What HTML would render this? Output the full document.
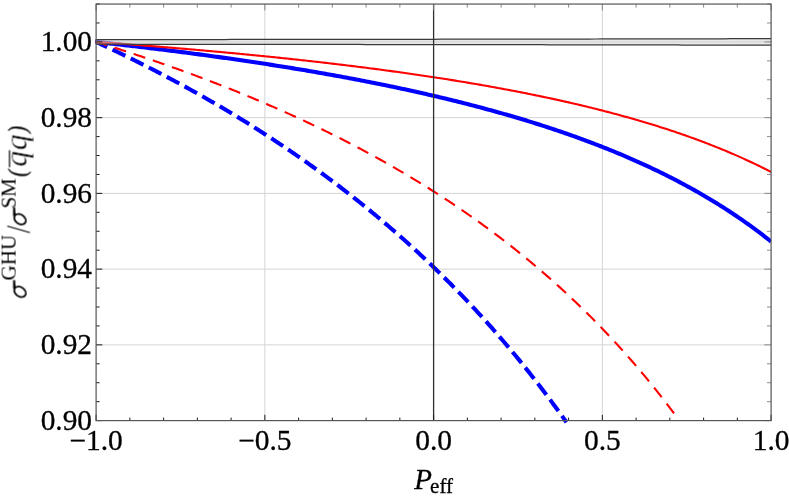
<!DOCTYPE html>
<html><head><meta charset="utf-8"><title>plot</title>
<style>
html,body{margin:0;padding:0;background:#fff;}
body{width:789px;height:497px;overflow:hidden;font-family:"Liberation Serif",serif;}
svg{display:block;}
text{font-family:"Liberation Serif",serif;fill:#000;}
.tx{opacity:0.999;}
.tk{stroke:#000;stroke-width:0.3px;}
</style></head><body>
<svg width="789" height="497" viewBox="0 0 789 497">
<rect x="0" y="0" width="789" height="497" fill="#ffffff"/>

<g stroke="#d4d4d4" stroke-width="1" fill="none">
<line x1="264.85" y1="4.05" x2="264.85" y2="420.60"/>
<line x1="602.35" y1="4.05" x2="602.35" y2="420.60"/>
<line x1="96.10" y1="344.86" x2="771.10" y2="344.86"/>
<line x1="96.10" y1="269.13" x2="771.10" y2="269.13"/>
<line x1="96.10" y1="193.39" x2="771.10" y2="193.39"/>
<line x1="96.10" y1="117.65" x2="771.10" y2="117.65"/>
<line x1="96.10" y1="41.92" x2="771.10" y2="41.92"/>
</g>
<defs><clipPath id="cp"><rect x="95.30" y="4.05" width="675.80" height="420.05"/></clipPath></defs>
<g clip-path="url(#cp)">
<path d="M96.10,41.92 L97.79,42.10 L99.47,42.29 L101.16,42.47 L102.85,42.66 L104.54,42.85 L106.23,43.04 L107.91,43.22 L109.60,43.41 L111.29,43.60 L112.98,43.79 L114.66,43.98 L116.35,44.17 L118.04,44.37 L119.73,44.56 L121.41,44.75 L123.10,44.95 L124.79,45.14 L126.47,45.34 L128.16,45.53 L129.85,45.73 L131.54,45.93 L133.22,46.12 L134.91,46.32 L136.60,46.52 L138.29,46.72 L139.97,46.92 L141.66,47.12 L143.35,47.32 L145.04,47.53 L146.72,47.73 L148.41,47.93 L150.10,48.14 L151.79,48.34 L153.48,48.55 L155.16,48.75 L156.85,48.96 L158.54,49.17 L160.22,49.38 L161.91,49.59 L163.60,49.80 L165.29,50.01 L166.97,50.22 L168.66,50.43 L170.35,50.64 L172.04,50.85 L173.72,51.07 L175.41,51.28 L177.10,51.50 L178.79,51.72 L180.47,51.93 L182.16,52.15 L183.85,52.37 L185.54,52.59 L187.22,52.81 L188.91,53.03 L190.60,53.25 L192.29,53.47 L193.98,53.70 L195.66,53.92 L197.35,54.14 L199.04,54.37 L200.73,54.60 L202.41,54.82 L204.10,55.05 L205.79,55.28 L207.48,55.51 L209.16,55.74 L210.85,55.97 L212.54,56.20 L214.22,56.44 L215.91,56.67 L217.60,56.90 L219.29,57.14 L220.97,57.37 L222.66,57.61 L224.35,57.85 L226.04,58.09 L227.72,58.33 L229.41,58.57 L231.10,58.81 L232.79,59.05 L234.47,59.29 L236.16,59.54 L237.85,59.78 L239.54,60.03 L241.22,60.27 L242.91,60.52 L244.60,60.77 L246.29,61.02 L247.97,61.27 L249.66,61.52 L251.35,61.77 L253.04,62.02 L254.72,62.28 L256.41,62.53 L258.10,62.79 L259.79,63.05 L261.48,63.30 L263.16,63.56 L264.85,63.82 L266.54,64.08 L268.23,64.34 L269.91,64.61 L271.60,64.87 L273.29,65.13 L274.98,65.40 L276.66,65.66 L278.35,65.93 L280.04,66.20 L281.73,66.47 L283.41,66.74 L285.10,67.01 L286.79,67.29 L288.47,67.56 L290.16,67.83 L291.85,68.11 L293.54,68.39 L295.23,68.66 L296.91,68.94 L298.60,69.22 L300.29,69.50 L301.98,69.79 L303.66,70.07 L305.35,70.35 L307.04,70.64 L308.73,70.93 L310.41,71.21 L312.10,71.50 L313.79,71.79 L315.48,72.08 L317.16,72.38 L318.85,72.67 L320.54,72.97 L322.23,73.26 L323.91,73.56 L325.60,73.86 L327.29,74.16 L328.97,74.46 L330.66,74.76 L332.35,75.06 L334.04,75.37 L335.73,75.67 L337.41,75.98 L339.10,76.29 L340.79,76.60 L342.48,76.91 L344.16,77.22 L345.85,77.53 L347.54,77.85 L349.23,78.16 L350.91,78.48 L352.60,78.80 L354.29,79.12 L355.98,79.44 L357.66,79.76 L359.35,80.08 L361.04,80.41 L362.73,80.74 L364.41,81.06 L366.10,81.39 L367.79,81.72 L369.48,82.06 L371.16,82.39 L372.85,82.72 L374.54,83.06 L376.23,83.40 L377.91,83.74 L379.60,84.08 L381.29,84.42 L382.98,84.76 L384.66,85.11 L386.35,85.46 L388.04,85.80 L389.73,86.15 L391.41,86.50 L393.10,86.86 L394.79,87.21 L396.48,87.57 L398.16,87.92 L399.85,88.28 L401.54,88.64 L403.23,89.00 L404.91,89.37 L406.60,89.73 L408.29,90.10 L409.98,90.47 L411.66,90.84 L413.35,91.21 L415.04,91.58 L416.73,91.96 L418.41,92.34 L420.10,92.71 L421.79,93.09 L423.48,93.48 L425.16,93.86 L426.85,94.25 L428.54,94.63 L430.23,95.02 L431.91,95.41 L433.60,95.80 L435.29,96.20 L436.98,96.60 L438.66,96.99 L440.35,97.39 L442.04,97.79 L443.73,98.20 L445.41,98.60 L447.10,99.01 L448.79,99.42 L450.48,99.83 L452.16,100.24 L453.85,100.66 L455.54,101.08 L457.23,101.50 L458.91,101.92 L460.60,102.34 L462.29,102.77 L463.98,103.19 L465.66,103.62 L467.35,104.05 L469.04,104.49 L470.73,104.92 L472.41,105.36 L474.10,105.80 L475.79,106.24 L477.47,106.69 L479.16,107.13 L480.85,107.58 L482.54,108.03 L484.22,108.48 L485.91,108.94 L487.60,109.40 L489.29,109.86 L490.98,110.32 L492.66,110.78 L494.35,111.25 L496.04,111.72 L497.73,112.19 L499.41,112.66 L501.10,113.14 L502.79,113.62 L504.48,114.10 L506.16,114.58 L507.85,115.07 L509.54,115.55 L511.23,116.05 L512.91,116.54 L514.60,117.04 L516.29,117.53 L517.98,118.03 L519.66,118.54 L521.35,119.04 L523.04,119.55 L524.73,120.07 L526.41,120.58 L528.10,121.10 L529.79,121.62 L531.48,122.14 L533.16,122.66 L534.85,123.19 L536.54,123.72 L538.23,124.26 L539.91,124.79 L541.60,125.33 L543.29,125.88 L544.98,126.42 L546.66,126.97 L548.35,127.52 L550.04,128.08 L551.73,128.63 L553.41,129.19 L555.10,129.76 L556.79,130.33 L558.48,130.90 L560.16,131.47 L561.85,132.04 L563.54,132.62 L565.22,133.21 L566.91,133.79 L568.60,134.38 L570.29,134.98 L571.98,135.57 L573.66,136.17 L575.35,136.77 L577.04,137.38 L578.73,137.99 L580.41,138.60 L582.10,139.22 L583.79,139.84 L585.48,140.46 L587.16,141.09 L588.85,141.72 L590.54,142.36 L592.23,143.00 L593.91,143.64 L595.60,144.29 L597.29,144.94 L598.98,145.59 L600.66,146.25 L602.35,146.91 L604.04,147.58 L605.73,148.25 L607.41,148.92 L609.10,149.60 L610.79,150.28 L612.48,150.97 L614.16,151.66 L615.85,152.35 L617.54,153.05 L619.23,153.75 L620.91,154.46 L622.60,155.17 L624.29,155.89 L625.98,156.61 L627.66,157.33 L629.35,158.06 L631.04,158.80 L632.73,159.54 L634.41,160.28 L636.10,161.03 L637.79,161.78 L639.48,162.54 L641.16,163.31 L642.85,164.07 L644.54,164.85 L646.23,165.62 L647.91,166.41 L649.60,167.20 L651.29,167.99 L652.98,168.79 L654.66,169.59 L656.35,170.40 L658.04,171.21 L659.73,172.03 L661.41,172.86 L663.10,173.69 L664.79,174.53 L666.48,175.37 L668.16,176.22 L669.85,177.07 L671.54,177.93 L673.23,178.79 L674.91,179.66 L676.60,180.54 L678.29,181.43 L679.98,182.31 L681.66,183.21 L683.35,184.11 L685.04,185.02 L686.73,185.93 L688.41,186.85 L690.10,187.78 L691.79,188.72 L693.48,189.66 L695.16,190.60 L696.85,191.56 L698.54,192.52 L700.23,193.49 L701.91,194.46 L703.60,195.44 L705.29,196.43 L706.98,197.43 L708.66,198.43 L710.35,199.45 L712.04,200.46 L713.73,201.49 L715.41,202.52 L717.10,203.57 L718.79,204.62 L720.48,205.67 L722.16,206.74 L723.85,207.81 L725.54,208.90 L727.23,209.99 L728.91,211.08 L730.60,212.19 L732.29,213.31 L733.98,214.43 L735.66,215.57 L737.35,216.71 L739.04,217.86 L740.73,219.02 L742.41,220.19 L744.10,221.37 L745.79,222.56 L747.48,223.75 L749.16,224.96 L750.85,226.18 L752.54,227.41 L754.23,228.64 L755.91,229.89 L757.60,231.15 L759.29,232.42 L760.98,233.70 L762.66,234.99 L764.35,236.29 L766.04,237.60 L767.73,238.92 L769.41,240.25 L771.10,241.60" fill="none" stroke="#0000ff" stroke-width="4.1"/>
<path d="M96.10,41.92 L97.79,42.70 L99.47,43.48 L101.16,44.27 L102.85,45.06 L104.54,45.85 L106.23,46.64 L107.91,47.44 L109.60,48.24 L111.29,49.04 L112.98,49.84 L114.66,50.65 L116.35,51.46 L118.04,52.27 L119.73,53.08 L121.41,53.90 L123.10,54.72 L124.79,55.54 L126.47,56.37 L128.16,57.19 L129.85,58.02 L131.54,58.85 L133.22,59.69 L134.91,60.53 L136.60,61.37 L138.29,62.21 L139.97,63.05 L141.66,63.90 L143.35,64.75 L145.04,65.61 L146.72,66.46 L148.41,67.32 L150.10,68.18 L151.79,69.05 L153.48,69.91 L155.16,70.78 L156.85,71.66 L158.54,72.53 L160.22,73.41 L161.91,74.29 L163.60,75.18 L165.29,76.07 L166.97,76.96 L168.66,77.85 L170.35,78.75 L172.04,79.64 L173.72,80.55 L175.41,81.45 L177.10,82.36 L178.79,83.27 L180.47,84.19 L182.16,85.10 L183.85,86.02 L185.54,86.95 L187.22,87.87 L188.91,88.80 L190.60,89.73 L192.29,90.67 L193.98,91.61 L195.66,92.55 L197.35,93.50 L199.04,94.45 L200.73,95.40 L202.41,96.35 L204.10,97.31 L205.79,98.27 L207.48,99.24 L209.16,100.20 L210.85,101.18 L212.54,102.15 L214.22,103.13 L215.91,104.11 L217.60,105.09 L219.29,106.08 L220.97,107.07 L222.66,108.07 L224.35,109.07 L226.04,110.07 L227.72,111.08 L229.41,112.09 L231.10,113.10 L232.79,114.11 L234.47,115.13 L236.16,116.16 L237.85,117.18 L239.54,118.21 L241.22,119.25 L242.91,120.29 L244.60,121.33 L246.29,122.37 L247.97,123.42 L249.66,124.47 L251.35,125.53 L253.04,126.59 L254.72,127.66 L256.41,128.72 L258.10,129.80 L259.79,130.87 L261.48,131.95 L263.16,133.03 L264.85,134.12 L266.54,135.21 L268.23,136.31 L269.91,137.41 L271.60,138.51 L273.29,139.62 L274.98,140.73 L276.66,141.84 L278.35,142.96 L280.04,144.09 L281.73,145.22 L283.41,146.35 L285.10,147.48 L286.79,148.62 L288.47,149.77 L290.16,150.92 L291.85,152.07 L293.54,153.23 L295.23,154.39 L296.91,155.56 L298.60,156.73 L300.29,157.90 L301.98,159.08 L303.66,160.27 L305.35,161.45 L307.04,162.65 L308.73,163.85 L310.41,165.05 L312.10,166.25 L313.79,167.47 L315.48,168.68 L317.16,169.90 L318.85,171.13 L320.54,172.36 L322.23,173.59 L323.91,174.83 L325.60,176.08 L327.29,177.33 L328.97,178.58 L330.66,179.84 L332.35,181.10 L334.04,182.37 L335.73,183.65 L337.41,184.92 L339.10,186.21 L340.79,187.50 L342.48,188.79 L344.16,190.09 L345.85,191.40 L347.54,192.71 L349.23,194.02 L350.91,195.34 L352.60,196.67 L354.29,198.00 L355.98,199.33 L357.66,200.67 L359.35,202.02 L361.04,203.37 L362.73,204.73 L364.41,206.09 L366.10,207.46 L367.79,208.84 L369.48,210.22 L371.16,211.60 L372.85,213.00 L374.54,214.39 L376.23,215.80 L377.91,217.20 L379.60,218.62 L381.29,220.04 L382.98,221.47 L384.66,222.90 L386.35,224.34 L388.04,225.78 L389.73,227.23 L391.41,228.69 L393.10,230.15 L394.79,231.62 L396.48,233.09 L398.16,234.57 L399.85,236.06 L401.54,237.56 L403.23,239.06 L404.91,240.56 L406.60,242.08 L408.29,243.60 L409.98,245.12 L411.66,246.65 L413.35,248.19 L415.04,249.74 L416.73,251.29 L418.41,252.85 L420.10,254.42 L421.79,255.99 L423.48,257.57 L425.16,259.16 L426.85,260.75 L428.54,262.35 L430.23,263.96 L431.91,265.57 L433.60,267.20 L435.29,268.83 L436.98,270.46 L438.66,272.11 L440.35,273.76 L442.04,275.42 L443.73,277.08 L445.41,278.76 L447.10,280.44 L448.79,282.13 L450.48,283.82 L452.16,285.53 L453.85,287.24 L455.54,288.96 L457.23,290.68 L458.91,292.42 L460.60,294.16 L462.29,295.92 L463.98,297.67 L465.66,299.44 L467.35,301.22 L469.04,303.00 L470.73,304.79 L472.41,306.60 L474.10,308.40 L475.79,310.22 L477.47,312.05 L479.16,313.88 L480.85,315.73 L482.54,317.58 L484.22,319.44 L485.91,321.31 L487.60,323.19 L489.29,325.08 L490.98,326.97 L492.66,328.88 L494.35,330.80 L496.04,332.72 L497.73,334.65 L499.41,336.60 L501.10,338.55 L502.79,340.51 L504.48,342.48 L506.16,344.47 L507.85,346.46 L509.54,348.46 L511.23,350.47 L512.91,352.49 L514.60,354.52 L516.29,356.56 L517.98,358.61 L519.66,360.67 L521.35,362.74 L523.04,364.83 L524.73,366.92 L526.41,369.02 L528.10,371.14 L529.79,373.26 L531.48,375.40 L533.16,377.54 L534.85,379.70 L536.54,381.87 L538.23,384.05 L539.91,386.24 L541.60,388.44 L543.29,390.65 L544.98,392.88 L546.66,395.11 L548.35,397.36 L550.04,399.62 L551.73,401.89 L553.41,404.18 L555.10,406.47 L556.79,408.78 L558.48,411.10 L560.16,413.43 L561.85,415.78 L563.54,418.13 L565.22,420.50 L565.29,420.60" fill="none" stroke="#0000ff" stroke-width="4.1" stroke-dasharray="10.108 10.108" stroke-linecap="square"/>
<path d="M96.10,41.92 L97.79,42.04 L99.47,42.16 L101.16,42.28 L102.85,42.41 L104.54,42.53 L106.23,42.65 L107.91,42.78 L109.60,42.90 L111.29,43.02 L112.98,43.15 L114.66,43.27 L116.35,43.40 L118.04,43.53 L119.73,43.65 L121.41,43.78 L123.10,43.91 L124.79,44.03 L126.47,44.16 L128.16,44.29 L129.85,44.42 L131.54,44.55 L133.22,44.68 L134.91,44.81 L136.60,44.94 L138.29,45.07 L139.97,45.20 L141.66,45.33 L143.35,45.46 L145.04,45.60 L146.72,45.73 L148.41,45.86 L150.10,46.00 L151.79,46.13 L153.48,46.27 L155.16,46.40 L156.85,46.54 L158.54,46.67 L160.22,46.81 L161.91,46.95 L163.60,47.09 L165.29,47.22 L166.97,47.36 L168.66,47.50 L170.35,47.64 L172.04,47.78 L173.72,47.92 L175.41,48.06 L177.10,48.20 L178.79,48.35 L180.47,48.49 L182.16,48.63 L183.85,48.77 L185.54,48.92 L187.22,49.06 L188.91,49.21 L190.60,49.35 L192.29,49.50 L193.98,49.64 L195.66,49.79 L197.35,49.94 L199.04,50.09 L200.73,50.23 L202.41,50.38 L204.10,50.53 L205.79,50.68 L207.48,50.83 L209.16,50.98 L210.85,51.14 L212.54,51.29 L214.22,51.44 L215.91,51.59 L217.60,51.75 L219.29,51.90 L220.97,52.06 L222.66,52.21 L224.35,52.37 L226.04,52.52 L227.72,52.68 L229.41,52.84 L231.10,53.00 L232.79,53.15 L234.47,53.31 L236.16,53.47 L237.85,53.63 L239.54,53.79 L241.22,53.96 L242.91,54.12 L244.60,54.28 L246.29,54.44 L247.97,54.61 L249.66,54.77 L251.35,54.94 L253.04,55.10 L254.72,55.27 L256.41,55.44 L258.10,55.60 L259.79,55.77 L261.48,55.94 L263.16,56.11 L264.85,56.28 L266.54,56.45 L268.23,56.62 L269.91,56.79 L271.60,56.97 L273.29,57.14 L274.98,57.31 L276.66,57.49 L278.35,57.66 L280.04,57.84 L281.73,58.02 L283.41,58.19 L285.10,58.37 L286.79,58.55 L288.47,58.73 L290.16,58.91 L291.85,59.09 L293.54,59.27 L295.23,59.45 L296.91,59.64 L298.60,59.82 L300.29,60.00 L301.98,60.19 L303.66,60.37 L305.35,60.56 L307.04,60.75 L308.73,60.93 L310.41,61.12 L312.10,61.31 L313.79,61.50 L315.48,61.69 L317.16,61.88 L318.85,62.08 L320.54,62.27 L322.23,62.46 L323.91,62.66 L325.60,62.85 L327.29,63.05 L328.97,63.25 L330.66,63.44 L332.35,63.64 L334.04,63.84 L335.73,64.04 L337.41,64.24 L339.10,64.44 L340.79,64.65 L342.48,64.85 L344.16,65.05 L345.85,65.26 L347.54,65.47 L349.23,65.67 L350.91,65.88 L352.60,66.09 L354.29,66.30 L355.98,66.51 L357.66,66.72 L359.35,66.93 L361.04,67.14 L362.73,67.36 L364.41,67.57 L366.10,67.79 L367.79,68.00 L369.48,68.22 L371.16,68.44 L372.85,68.66 L374.54,68.88 L376.23,69.10 L377.91,69.32 L379.60,69.54 L381.29,69.77 L382.98,69.99 L384.66,70.22 L386.35,70.44 L388.04,70.67 L389.73,70.90 L391.41,71.13 L393.10,71.36 L394.79,71.59 L396.48,71.82 L398.16,72.06 L399.85,72.29 L401.54,72.53 L403.23,72.77 L404.91,73.00 L406.60,73.24 L408.29,73.48 L409.98,73.72 L411.66,73.96 L413.35,74.21 L415.04,74.45 L416.73,74.70 L418.41,74.94 L420.10,75.19 L421.79,75.44 L423.48,75.69 L425.16,75.94 L426.85,76.19 L428.54,76.45 L430.23,76.70 L431.91,76.95 L433.60,77.21 L435.29,77.47 L436.98,77.73 L438.66,77.99 L440.35,78.25 L442.04,78.51 L443.73,78.78 L445.41,79.04 L447.10,79.31 L448.79,79.57 L450.48,79.84 L452.16,80.11 L453.85,80.38 L455.54,80.66 L457.23,80.93 L458.91,81.21 L460.60,81.48 L462.29,81.76 L463.98,82.04 L465.66,82.32 L467.35,82.60 L469.04,82.88 L470.73,83.17 L472.41,83.45 L474.10,83.74 L475.79,84.03 L477.47,84.32 L479.16,84.61 L480.85,84.90 L482.54,85.20 L484.22,85.49 L485.91,85.79 L487.60,86.09 L489.29,86.39 L490.98,86.69 L492.66,87.00 L494.35,87.30 L496.04,87.61 L497.73,87.91 L499.41,88.22 L501.10,88.53 L502.79,88.85 L504.48,89.16 L506.16,89.48 L507.85,89.79 L509.54,90.11 L511.23,90.43 L512.91,90.75 L514.60,91.08 L516.29,91.40 L517.98,91.73 L519.66,92.06 L521.35,92.39 L523.04,92.72 L524.73,93.06 L526.41,93.39 L528.10,93.73 L529.79,94.07 L531.48,94.41 L533.16,94.75 L534.85,95.10 L536.54,95.44 L538.23,95.79 L539.91,96.14 L541.60,96.49 L543.29,96.85 L544.98,97.20 L546.66,97.56 L548.35,97.92 L550.04,98.28 L551.73,98.64 L553.41,99.01 L555.10,99.38 L556.79,99.75 L558.48,100.12 L560.16,100.49 L561.85,100.87 L563.54,101.25 L565.22,101.63 L566.91,102.01 L568.60,102.39 L570.29,102.78 L571.98,103.17 L573.66,103.56 L575.35,103.95 L577.04,104.35 L578.73,104.74 L580.41,105.14 L582.10,105.54 L583.79,105.95 L585.48,106.35 L587.16,106.76 L588.85,107.17 L590.54,107.59 L592.23,108.00 L593.91,108.42 L595.60,108.84 L597.29,109.27 L598.98,109.69 L600.66,110.12 L602.35,110.55 L604.04,110.99 L605.73,111.42 L607.41,111.86 L609.10,112.30 L610.79,112.75 L612.48,113.19 L614.16,113.64 L615.85,114.10 L617.54,114.55 L619.23,115.01 L620.91,115.47 L622.60,115.93 L624.29,116.40 L625.98,116.87 L627.66,117.34 L629.35,117.81 L631.04,118.29 L632.73,118.77 L634.41,119.26 L636.10,119.74 L637.79,120.23 L639.48,120.73 L641.16,121.22 L642.85,121.72 L644.54,122.22 L646.23,122.73 L647.91,123.24 L649.60,123.75 L651.29,124.27 L652.98,124.79 L654.66,125.31 L656.35,125.84 L658.04,126.36 L659.73,126.90 L661.41,127.43 L663.10,127.97 L664.79,128.52 L666.48,129.06 L668.16,129.62 L669.85,130.17 L671.54,130.73 L673.23,131.29 L674.91,131.86 L676.60,132.43 L678.29,133.00 L679.98,133.58 L681.66,134.16 L683.35,134.74 L685.04,135.33 L686.73,135.93 L688.41,136.53 L690.10,137.13 L691.79,137.73 L693.48,138.34 L695.16,138.96 L696.85,139.58 L698.54,140.20 L700.23,140.83 L701.91,141.46 L703.60,142.10 L705.29,142.74 L706.98,143.39 L708.66,144.04 L710.35,144.70 L712.04,145.36 L713.73,146.02 L715.41,146.69 L717.10,147.37 L718.79,148.05 L720.48,148.74 L722.16,149.43 L723.85,150.12 L725.54,150.82 L727.23,151.53 L728.91,152.24 L730.60,152.96 L732.29,153.68 L733.98,154.41 L735.66,155.15 L737.35,155.89 L739.04,156.63 L740.73,157.38 L742.41,158.14 L744.10,158.90 L745.79,159.67 L747.48,160.45 L749.16,161.23 L750.85,162.02 L752.54,162.81 L754.23,163.62 L755.91,164.42 L757.60,165.24 L759.29,166.06 L760.98,166.88 L762.66,167.72 L764.35,168.56 L766.04,169.41 L767.73,170.26 L769.41,171.13 L771.10,172.00" fill="none" stroke="#ff0000" stroke-width="2.1"/>
<path d="M96.10,41.92 L97.79,42.44 L99.47,42.96 L101.16,43.49 L102.85,44.01 L104.54,44.54 L106.23,45.07 L107.91,45.60 L109.60,46.13 L111.29,46.67 L112.98,47.20 L114.66,47.74 L116.35,48.28 L118.04,48.82 L119.73,49.36 L121.41,49.90 L123.10,50.45 L124.79,51.00 L126.47,51.55 L128.16,52.10 L129.85,52.65 L131.54,53.20 L133.22,53.76 L134.91,54.32 L136.60,54.88 L138.29,55.44 L139.97,56.00 L141.66,56.57 L143.35,57.13 L145.04,57.70 L146.72,58.27 L148.41,58.84 L150.10,59.42 L151.79,59.99 L153.48,60.57 L155.16,61.15 L156.85,61.73 L158.54,62.31 L160.22,62.90 L161.91,63.49 L163.60,64.08 L165.29,64.67 L166.97,65.26 L168.66,65.85 L170.35,66.45 L172.04,67.05 L173.72,67.65 L175.41,68.25 L177.10,68.86 L178.79,69.46 L180.47,70.07 L182.16,70.68 L183.85,71.29 L185.54,71.91 L187.22,72.52 L188.91,73.14 L190.60,73.76 L192.29,74.39 L193.98,75.01 L195.66,75.64 L197.35,76.27 L199.04,76.90 L200.73,77.53 L202.41,78.16 L204.10,78.80 L205.79,79.44 L207.48,80.08 L209.16,80.73 L210.85,81.37 L212.54,82.02 L214.22,82.67 L215.91,83.32 L217.60,83.98 L219.29,84.64 L220.97,85.29 L222.66,85.96 L224.35,86.62 L226.04,87.29 L227.72,87.95 L229.41,88.63 L231.10,89.30 L232.79,89.97 L234.47,90.65 L236.16,91.33 L237.85,92.01 L239.54,92.70 L241.22,93.39 L242.91,94.08 L244.60,94.77 L246.29,95.46 L247.97,96.16 L249.66,96.86 L251.35,97.56 L253.04,98.26 L254.72,98.97 L256.41,99.68 L258.10,100.39 L259.79,101.11 L261.48,101.82 L263.16,102.54 L264.85,103.26 L266.54,103.99 L268.23,104.72 L269.91,105.45 L271.60,106.18 L273.29,106.91 L274.98,107.65 L276.66,108.39 L278.35,109.14 L280.04,109.88 L281.73,110.63 L283.41,111.38 L285.10,112.14 L286.79,112.89 L288.47,113.65 L290.16,114.41 L291.85,115.18 L293.54,115.95 L295.23,116.72 L296.91,117.49 L298.60,118.27 L300.29,119.05 L301.98,119.83 L303.66,120.62 L305.35,121.41 L307.04,122.20 L308.73,122.99 L310.41,123.79 L312.10,124.59 L313.79,125.39 L315.48,126.20 L317.16,127.01 L318.85,127.82 L320.54,128.64 L322.23,129.45 L323.91,130.28 L325.60,131.10 L327.29,131.93 L328.97,132.76 L330.66,133.59 L332.35,134.43 L334.04,135.27 L335.73,136.12 L337.41,136.96 L339.10,137.82 L340.79,138.67 L342.48,139.53 L344.16,140.39 L345.85,141.25 L347.54,142.12 L349.23,142.99 L350.91,143.86 L352.60,144.74 L354.29,145.62 L355.98,146.51 L357.66,147.40 L359.35,148.29 L361.04,149.18 L362.73,150.08 L364.41,150.99 L366.10,151.89 L367.79,152.80 L369.48,153.72 L371.16,154.63 L372.85,155.55 L374.54,156.48 L376.23,157.41 L377.91,158.34 L379.60,159.27 L381.29,160.21 L382.98,161.16 L384.66,162.11 L386.35,163.06 L388.04,164.01 L389.73,164.97 L391.41,165.94 L393.10,166.90 L394.79,167.87 L396.48,168.85 L398.16,169.83 L399.85,170.81 L401.54,171.80 L403.23,172.79 L404.91,173.79 L406.60,174.79 L408.29,175.79 L409.98,176.80 L411.66,177.81 L413.35,178.83 L415.04,179.85 L416.73,180.88 L418.41,181.91 L420.10,182.94 L421.79,183.98 L423.48,185.03 L425.16,186.07 L426.85,187.13 L428.54,188.18 L430.23,189.25 L431.91,190.31 L433.60,191.38 L435.29,192.46 L436.98,193.54 L438.66,194.63 L440.35,195.72 L442.04,196.81 L443.73,197.91 L445.41,199.01 L447.10,200.12 L448.79,201.24 L450.48,202.36 L452.16,203.48 L453.85,204.61 L455.54,205.75 L457.23,206.89 L458.91,208.03 L460.60,209.18 L462.29,210.34 L463.98,211.50 L465.66,212.66 L467.35,213.83 L469.04,215.01 L470.73,216.19 L472.41,217.38 L474.10,218.57 L475.79,219.77 L477.47,220.97 L479.16,222.18 L480.85,223.40 L482.54,224.62 L484.22,225.84 L485.91,227.08 L487.60,228.31 L489.29,229.56 L490.98,230.81 L492.66,232.06 L494.35,233.32 L496.04,234.59 L497.73,235.86 L499.41,237.14 L501.10,238.43 L502.79,239.72 L504.48,241.02 L506.16,242.32 L507.85,243.63 L509.54,244.95 L511.23,246.27 L512.91,247.60 L514.60,248.94 L516.29,250.28 L517.98,251.63 L519.66,252.99 L521.35,254.35 L523.04,255.72 L524.73,257.09 L526.41,258.48 L528.10,259.87 L529.79,261.26 L531.48,262.67 L533.16,264.08 L534.85,265.50 L536.54,266.92 L538.23,268.35 L539.91,269.79 L541.60,271.24 L543.29,272.69 L544.98,274.15 L546.66,275.62 L548.35,277.10 L550.04,278.58 L551.73,280.07 L553.41,281.57 L555.10,283.08 L556.79,284.60 L558.48,286.12 L560.16,287.65 L561.85,289.19 L563.54,290.73 L565.22,292.29 L566.91,293.85 L568.60,295.42 L570.29,297.00 L571.98,298.59 L573.66,300.19 L575.35,301.79 L577.04,303.41 L578.73,305.03 L580.41,306.66 L582.10,308.30 L583.79,309.95 L585.48,311.61 L587.16,313.27 L588.85,314.95 L590.54,316.63 L592.23,318.33 L593.91,320.03 L595.60,321.75 L597.29,323.47 L598.98,325.20 L600.66,326.94 L602.35,328.69 L604.04,330.45 L605.73,332.23 L607.41,334.01 L609.10,335.80 L610.79,337.60 L612.48,339.41 L614.16,341.23 L615.85,343.06 L617.54,344.91 L619.23,346.76 L620.91,348.62 L622.60,350.50 L624.29,352.38 L625.98,354.28 L627.66,356.19 L629.35,358.11 L631.04,360.04 L632.73,361.98 L634.41,363.93 L636.10,365.90 L637.79,367.87 L639.48,369.86 L641.16,371.86 L642.85,373.87 L644.54,375.89 L646.23,377.93 L647.91,379.98 L649.60,382.04 L651.29,384.11 L652.98,386.20 L654.66,388.30 L656.35,390.41 L658.04,392.53 L659.73,394.67 L661.41,396.82 L663.10,398.98 L664.79,401.16 L666.48,403.35 L668.16,405.56 L669.85,407.78 L671.54,410.01 L673.23,412.25 L674.91,414.52 L676.60,416.79 L677.73,418.33" fill="none" stroke="#ff0000" stroke-width="2.1" stroke-dasharray="10.118 10.118" stroke-linecap="square"/>
<path d="M96.10,39.62 L102.85,39.61 L109.60,39.61 L116.35,39.60 L123.10,39.59 L129.85,39.59 L136.60,39.58 L143.35,39.58 L150.10,39.57 L156.85,39.56 L163.60,39.56 L170.35,39.55 L177.10,39.54 L183.85,39.54 L190.60,39.53 L197.35,39.52 L204.10,39.52 L210.85,39.51 L217.60,39.50 L224.35,39.50 L231.10,39.49 L237.85,39.48 L244.60,39.48 L251.35,39.47 L258.10,39.46 L264.85,39.46 L271.60,39.45 L278.35,39.44 L285.10,39.43 L291.85,39.43 L298.60,39.42 L305.35,39.41 L312.10,39.40 L318.85,39.40 L325.60,39.39 L332.35,39.38 L339.10,39.37 L345.85,39.36 L352.60,39.36 L359.35,39.35 L366.10,39.34 L372.85,39.33 L379.60,39.32 L386.35,39.32 L393.10,39.31 L399.85,39.30 L406.60,39.29 L413.35,39.28 L420.10,39.27 L426.85,39.26 L433.60,39.25 L440.35,39.24 L447.10,39.24 L453.85,39.23 L460.60,39.22 L467.35,39.21 L474.10,39.20 L480.85,39.19 L487.60,39.18 L494.35,39.17 L501.10,39.16 L507.85,39.15 L514.60,39.14 L521.35,39.13 L528.10,39.12 L534.85,39.11 L541.60,39.09 L548.35,39.08 L555.10,39.07 L561.85,39.06 L568.60,39.05 L575.35,39.04 L582.10,39.03 L588.85,39.02 L595.60,39.00 L602.35,38.99 L609.10,38.98 L615.85,38.97 L622.60,38.95 L629.35,38.94 L636.10,38.93 L642.85,38.92 L649.60,38.90 L656.35,38.89 L663.10,38.88 L669.85,38.86 L676.60,38.85 L683.35,38.83 L690.10,38.82 L696.85,38.81 L703.60,38.79 L710.35,38.78 L717.10,38.76 L723.85,38.75 L730.60,38.73 L737.35,38.71 L744.10,38.70 L750.85,38.68 L757.60,38.67 L764.35,38.65 L771.10,38.63 L771.10,45.20 L764.35,45.19 L757.60,45.17 L750.85,45.15 L744.10,45.14 L737.35,45.12 L730.60,45.11 L723.85,45.09 L717.10,45.08 L710.35,45.06 L703.60,45.05 L696.85,45.03 L690.10,45.02 L683.35,45.00 L676.60,44.99 L669.85,44.97 L663.10,44.96 L656.35,44.95 L649.60,44.93 L642.85,44.92 L636.10,44.91 L629.35,44.89 L622.60,44.88 L615.85,44.87 L609.10,44.86 L602.35,44.85 L595.60,44.83 L588.85,44.82 L582.10,44.81 L575.35,44.80 L568.60,44.79 L561.85,44.78 L555.10,44.76 L548.35,44.75 L541.60,44.74 L534.85,44.73 L528.10,44.72 L521.35,44.71 L514.60,44.70 L507.85,44.69 L501.10,44.68 L494.35,44.67 L487.60,44.66 L480.85,44.65 L474.10,44.64 L467.35,44.63 L460.60,44.62 L453.85,44.61 L447.10,44.60 L440.35,44.59 L433.60,44.58 L426.85,44.57 L420.10,44.56 L413.35,44.56 L406.60,44.55 L399.85,44.54 L393.10,44.53 L386.35,44.52 L379.60,44.51 L372.85,44.50 L366.10,44.50 L359.35,44.49 L352.60,44.48 L345.85,44.47 L339.10,44.46 L332.35,44.46 L325.60,44.45 L318.85,44.44 L312.10,44.43 L305.35,44.42 L298.60,44.42 L291.85,44.41 L285.10,44.40 L278.35,44.40 L271.60,44.39 L264.85,44.38 L258.10,44.37 L251.35,44.37 L244.60,44.36 L237.85,44.35 L231.10,44.35 L224.35,44.34 L217.60,44.33 L210.85,44.32 L204.10,44.32 L197.35,44.31 L190.60,44.30 L183.85,44.30 L177.10,44.29 L170.35,44.29 L163.60,44.28 L156.85,44.27 L150.10,44.27 L143.35,44.26 L136.60,44.25 L129.85,44.25 L123.10,44.24 L116.35,44.24 L109.60,44.23 L102.85,44.22 L96.10,44.22Z" fill="#d2d2d2" fill-opacity="0.52" stroke="none"/>
<path d="M96.10,39.62 L102.85,39.61 L109.60,39.61 L116.35,39.60 L123.10,39.59 L129.85,39.59 L136.60,39.58 L143.35,39.58 L150.10,39.57 L156.85,39.56 L163.60,39.56 L170.35,39.55 L177.10,39.54 L183.85,39.54 L190.60,39.53 L197.35,39.52 L204.10,39.52 L210.85,39.51 L217.60,39.50 L224.35,39.50 L231.10,39.49 L237.85,39.48 L244.60,39.48 L251.35,39.47 L258.10,39.46 L264.85,39.46 L271.60,39.45 L278.35,39.44 L285.10,39.43 L291.85,39.43 L298.60,39.42 L305.35,39.41 L312.10,39.40 L318.85,39.40 L325.60,39.39 L332.35,39.38 L339.10,39.37 L345.85,39.36 L352.60,39.36 L359.35,39.35 L366.10,39.34 L372.85,39.33 L379.60,39.32 L386.35,39.32 L393.10,39.31 L399.85,39.30 L406.60,39.29 L413.35,39.28 L420.10,39.27 L426.85,39.26 L433.60,39.25 L440.35,39.24 L447.10,39.24 L453.85,39.23 L460.60,39.22 L467.35,39.21 L474.10,39.20 L480.85,39.19 L487.60,39.18 L494.35,39.17 L501.10,39.16 L507.85,39.15 L514.60,39.14 L521.35,39.13 L528.10,39.12 L534.85,39.11 L541.60,39.09 L548.35,39.08 L555.10,39.07 L561.85,39.06 L568.60,39.05 L575.35,39.04 L582.10,39.03 L588.85,39.02 L595.60,39.00 L602.35,38.99 L609.10,38.98 L615.85,38.97 L622.60,38.95 L629.35,38.94 L636.10,38.93 L642.85,38.92 L649.60,38.90 L656.35,38.89 L663.10,38.88 L669.85,38.86 L676.60,38.85 L683.35,38.83 L690.10,38.82 L696.85,38.81 L703.60,38.79 L710.35,38.78 L717.10,38.76 L723.85,38.75 L730.60,38.73 L737.35,38.71 L744.10,38.70 L750.85,38.68 L757.60,38.67 L764.35,38.65 L771.10,38.63" fill="none" stroke="#3a3a3a" stroke-width="1.25"/>
<path d="M96.10,44.22 L102.85,44.22 L109.60,44.23 L116.35,44.24 L123.10,44.24 L129.85,44.25 L136.60,44.25 L143.35,44.26 L150.10,44.27 L156.85,44.27 L163.60,44.28 L170.35,44.29 L177.10,44.29 L183.85,44.30 L190.60,44.30 L197.35,44.31 L204.10,44.32 L210.85,44.32 L217.60,44.33 L224.35,44.34 L231.10,44.35 L237.85,44.35 L244.60,44.36 L251.35,44.37 L258.10,44.37 L264.85,44.38 L271.60,44.39 L278.35,44.40 L285.10,44.40 L291.85,44.41 L298.60,44.42 L305.35,44.42 L312.10,44.43 L318.85,44.44 L325.60,44.45 L332.35,44.46 L339.10,44.46 L345.85,44.47 L352.60,44.48 L359.35,44.49 L366.10,44.50 L372.85,44.50 L379.60,44.51 L386.35,44.52 L393.10,44.53 L399.85,44.54 L406.60,44.55 L413.35,44.56 L420.10,44.56 L426.85,44.57 L433.60,44.58 L440.35,44.59 L447.10,44.60 L453.85,44.61 L460.60,44.62 L467.35,44.63 L474.10,44.64 L480.85,44.65 L487.60,44.66 L494.35,44.67 L501.10,44.68 L507.85,44.69 L514.60,44.70 L521.35,44.71 L528.10,44.72 L534.85,44.73 L541.60,44.74 L548.35,44.75 L555.10,44.76 L561.85,44.78 L568.60,44.79 L575.35,44.80 L582.10,44.81 L588.85,44.82 L595.60,44.83 L602.35,44.85 L609.10,44.86 L615.85,44.87 L622.60,44.88 L629.35,44.89 L636.10,44.91 L642.85,44.92 L649.60,44.93 L656.35,44.95 L663.10,44.96 L669.85,44.97 L676.60,44.99 L683.35,45.00 L690.10,45.02 L696.85,45.03 L703.60,45.05 L710.35,45.06 L717.10,45.08 L723.85,45.09 L730.60,45.11 L737.35,45.12 L744.10,45.14 L750.85,45.15 L757.60,45.17 L764.35,45.19 L771.10,45.20" fill="none" stroke="#3a3a3a" stroke-width="1.25"/>
</g>
<line x1="433.60" y1="4.05" x2="433.60" y2="420.60" stroke="#303030" stroke-width="1.3"/>
<g stroke="#1a1a1a" stroke-width="1" fill="none"><line x1="96.10" y1="420.60" x2="96.10" y2="414.80"/><line x1="129.85" y1="420.60" x2="129.85" y2="417.60"/><line x1="163.60" y1="420.60" x2="163.60" y2="417.60"/><line x1="197.35" y1="420.60" x2="197.35" y2="417.60"/><line x1="231.10" y1="420.60" x2="231.10" y2="417.60"/><line x1="264.85" y1="420.60" x2="264.85" y2="414.80"/><line x1="298.60" y1="420.60" x2="298.60" y2="417.60"/><line x1="332.35" y1="420.60" x2="332.35" y2="417.60"/><line x1="366.10" y1="420.60" x2="366.10" y2="417.60"/><line x1="399.85" y1="420.60" x2="399.85" y2="417.60"/><line x1="433.60" y1="420.60" x2="433.60" y2="414.80"/><line x1="467.35" y1="420.60" x2="467.35" y2="417.60"/><line x1="501.10" y1="420.60" x2="501.10" y2="417.60"/><line x1="534.85" y1="420.60" x2="534.85" y2="417.60"/><line x1="568.60" y1="420.60" x2="568.60" y2="417.60"/><line x1="602.35" y1="420.60" x2="602.35" y2="414.80"/><line x1="636.10" y1="420.60" x2="636.10" y2="417.60"/><line x1="669.85" y1="420.60" x2="669.85" y2="417.60"/><line x1="703.60" y1="420.60" x2="703.60" y2="417.60"/><line x1="737.35" y1="420.60" x2="737.35" y2="417.60"/><line x1="771.10" y1="420.60" x2="771.10" y2="414.80"/><line x1="96.10" y1="420.60" x2="102.30" y2="420.60"/><line x1="96.10" y1="401.67" x2="99.60" y2="401.67"/><line x1="96.10" y1="382.73" x2="99.60" y2="382.73"/><line x1="96.10" y1="363.80" x2="99.60" y2="363.80"/><line x1="96.10" y1="344.86" x2="102.30" y2="344.86"/><line x1="96.10" y1="325.93" x2="99.60" y2="325.93"/><line x1="96.10" y1="307.00" x2="99.60" y2="307.00"/><line x1="96.10" y1="288.06" x2="99.60" y2="288.06"/><line x1="96.10" y1="269.13" x2="102.30" y2="269.13"/><line x1="96.10" y1="250.19" x2="99.60" y2="250.19"/><line x1="96.10" y1="231.26" x2="99.60" y2="231.26"/><line x1="96.10" y1="212.32" x2="99.60" y2="212.32"/><line x1="96.10" y1="193.39" x2="102.30" y2="193.39"/><line x1="96.10" y1="174.46" x2="99.60" y2="174.46"/><line x1="96.10" y1="155.52" x2="99.60" y2="155.52"/><line x1="96.10" y1="136.59" x2="99.60" y2="136.59"/><line x1="96.10" y1="117.65" x2="102.30" y2="117.65"/><line x1="96.10" y1="98.72" x2="99.60" y2="98.72"/><line x1="96.10" y1="79.79" x2="99.60" y2="79.79"/><line x1="96.10" y1="60.85" x2="99.60" y2="60.85"/><line x1="96.10" y1="41.92" x2="102.30" y2="41.92"/><line x1="96.10" y1="22.98" x2="99.60" y2="22.98"/><line x1="96.10" y1="4.05" x2="99.60" y2="4.05"/></g>
<g stroke="#808080" stroke-width="0.9" fill="none"><line x1="96.10" y1="4.05" x2="96.10" y2="10.45"/><line x1="129.85" y1="4.05" x2="129.85" y2="7.65"/><line x1="163.60" y1="4.05" x2="163.60" y2="7.65"/><line x1="197.35" y1="4.05" x2="197.35" y2="7.65"/><line x1="231.10" y1="4.05" x2="231.10" y2="7.65"/><line x1="264.85" y1="4.05" x2="264.85" y2="10.45"/><line x1="298.60" y1="4.05" x2="298.60" y2="7.65"/><line x1="332.35" y1="4.05" x2="332.35" y2="7.65"/><line x1="366.10" y1="4.05" x2="366.10" y2="7.65"/><line x1="399.85" y1="4.05" x2="399.85" y2="7.65"/><line x1="433.60" y1="4.05" x2="433.60" y2="10.45"/><line x1="467.35" y1="4.05" x2="467.35" y2="7.65"/><line x1="501.10" y1="4.05" x2="501.10" y2="7.65"/><line x1="534.85" y1="4.05" x2="534.85" y2="7.65"/><line x1="568.60" y1="4.05" x2="568.60" y2="7.65"/><line x1="602.35" y1="4.05" x2="602.35" y2="10.45"/><line x1="636.10" y1="4.05" x2="636.10" y2="7.65"/><line x1="669.85" y1="4.05" x2="669.85" y2="7.65"/><line x1="703.60" y1="4.05" x2="703.60" y2="7.65"/><line x1="737.35" y1="4.05" x2="737.35" y2="7.65"/><line x1="771.10" y1="4.05" x2="771.10" y2="10.45"/><line x1="771.10" y1="420.60" x2="764.30" y2="420.60"/><line x1="771.10" y1="401.67" x2="767.00" y2="401.67"/><line x1="771.10" y1="382.73" x2="767.00" y2="382.73"/><line x1="771.10" y1="363.80" x2="767.00" y2="363.80"/><line x1="771.10" y1="344.86" x2="764.30" y2="344.86"/><line x1="771.10" y1="325.93" x2="767.00" y2="325.93"/><line x1="771.10" y1="307.00" x2="767.00" y2="307.00"/><line x1="771.10" y1="288.06" x2="767.00" y2="288.06"/><line x1="771.10" y1="269.13" x2="764.30" y2="269.13"/><line x1="771.10" y1="250.19" x2="767.00" y2="250.19"/><line x1="771.10" y1="231.26" x2="767.00" y2="231.26"/><line x1="771.10" y1="212.32" x2="767.00" y2="212.32"/><line x1="771.10" y1="193.39" x2="764.30" y2="193.39"/><line x1="771.10" y1="174.46" x2="767.00" y2="174.46"/><line x1="771.10" y1="155.52" x2="767.00" y2="155.52"/><line x1="771.10" y1="136.59" x2="767.00" y2="136.59"/><line x1="771.10" y1="117.65" x2="764.30" y2="117.65"/><line x1="771.10" y1="98.72" x2="767.00" y2="98.72"/><line x1="771.10" y1="79.79" x2="767.00" y2="79.79"/><line x1="771.10" y1="60.85" x2="767.00" y2="60.85"/><line x1="771.10" y1="41.92" x2="764.30" y2="41.92"/><line x1="771.10" y1="22.98" x2="767.00" y2="22.98"/><line x1="771.10" y1="4.05" x2="767.00" y2="4.05"/></g>
<rect x="96.10" y="4.05" width="675.00" height="416.55" fill="none" stroke="#555555" stroke-width="1.2"/>
<g class="tx">
<text transform="translate(92.05,429.80) scale(1.03,1)" font-size="28.5" text-anchor="end" class="tk">0.90</text>
<text transform="translate(92.05,354.06) scale(1.03,1)" font-size="28.5" text-anchor="end" class="tk">0.92</text>
<text transform="translate(92.05,278.33) scale(1.03,1)" font-size="28.5" text-anchor="end" class="tk">0.94</text>
<text transform="translate(92.05,202.59) scale(1.03,1)" font-size="28.5" text-anchor="end" class="tk">0.96</text>
<text transform="translate(92.05,126.85) scale(1.03,1)" font-size="28.5" text-anchor="end" class="tk">0.98</text>
<text transform="translate(92.05,51.12) scale(1.03,1)" font-size="28.5" text-anchor="end" class="tk">1.00</text>
<text transform="translate(96.10,449.6) scale(1.035,1)" font-size="28.5" text-anchor="middle" class="tk">−1.0</text>
<text transform="translate(264.85,449.6) scale(1.035,1)" font-size="28.5" text-anchor="middle" class="tk">−0.5</text>
<text transform="translate(433.60,449.6) scale(1.035,1)" font-size="28.5" text-anchor="middle" class="tk">0.0</text>
<text transform="translate(602.35,449.6) scale(1.035,1)" font-size="28.5" text-anchor="middle" class="tk">0.5</text>
<text transform="translate(771.10,449.6) scale(1.035,1)" font-size="28.5" text-anchor="middle" class="tk">1.0</text>
<text x="414.25" y="489" font-size="29" font-style="italic" class="tk">P</text>
<text x="430.1" y="492.6" font-size="21" class="tk">eff</text>
<g transform="translate(26.6,297.5) rotate(-90)">
<g transform="translate(0.00,0)"><ellipse cx="5.7" cy="-6.6" rx="6.3" ry="4.7" transform="rotate(-55 5.7 -6.6)" fill="none" stroke="#000" stroke-width="1.7"/><path d="M8.6,-13.5 L17.4,-13.5 L17.4,-11.4 L10.2,-11.0 Z" fill="#000"/></g>
<text transform="translate(17.03,-11.50) scale(1,1)" font-size="21.1">GHU</text>
<line x1="64.9" y1="3.4" x2="71.4" y2="-19.4" stroke="#000" stroke-width="1.1"/>
<g transform="translate(72.60,0)"><ellipse cx="5.7" cy="-6.6" rx="6.3" ry="4.7" transform="rotate(-55 5.7 -6.6)" fill="none" stroke="#000" stroke-width="1.7"/><path d="M8.6,-13.5 L17.4,-13.5 L17.4,-11.4 L10.2,-11.0 Z" fill="#000"/></g>
<text transform="translate(88.89,-11.50) scale(1,1)" font-size="21.1">SM</text>
<text transform="translate(120.68,-1.30) scale(0.8,1)" font-size="25.6" font-style="italic" stroke="#000" stroke-width="0.35">(</text>
<text transform="translate(130.75,0.00) scale(1,1)" font-size="31.8" font-style="italic" stroke="#fff" stroke-width="0.45">q</text>
<text transform="translate(147.35,0.00) scale(1,1)" font-size="31.8" font-style="italic" stroke="#fff" stroke-width="0.45">q</text>
<text transform="translate(164.86,-1.30) scale(0.8,1)" font-size="25.6" font-style="italic" stroke="#000" stroke-width="0.35">)</text>
<line x1="130.3" y1="-17.1" x2="147.3" y2="-17.1" stroke="#000" stroke-width="1.2"/>
</g>
</g>
</svg></body></html>
